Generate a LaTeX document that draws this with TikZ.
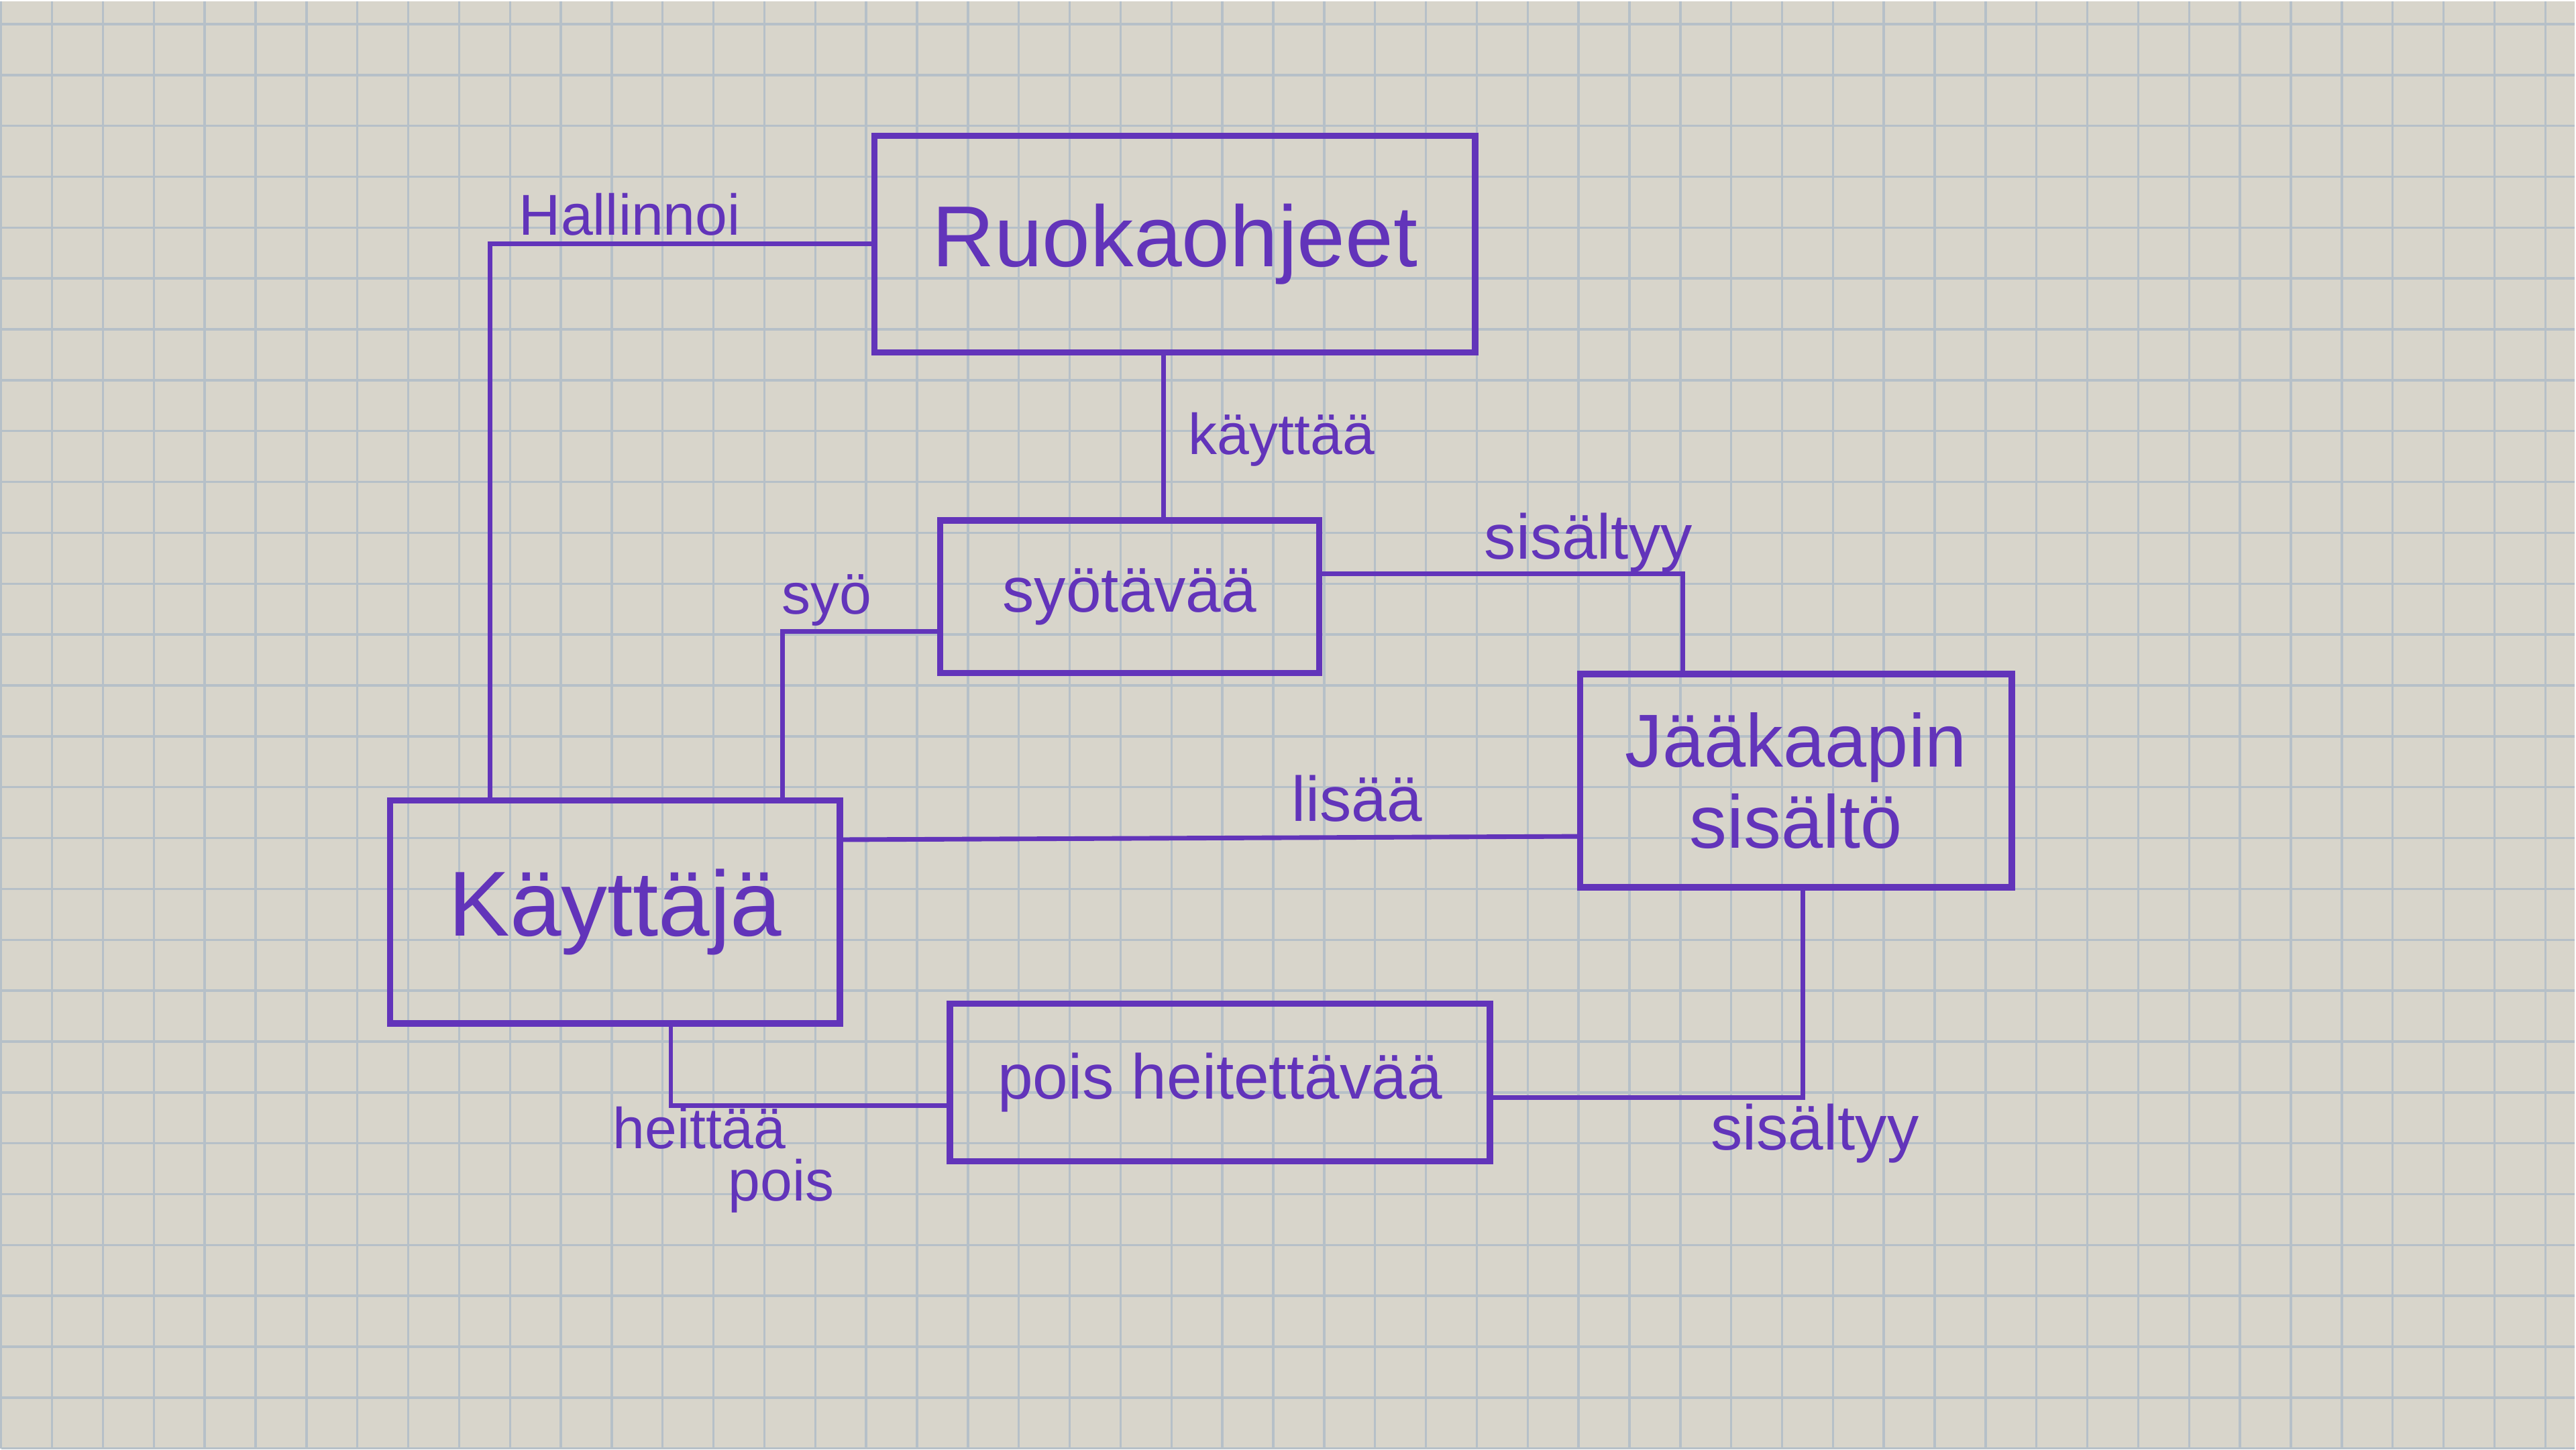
\documentclass[tikz,border=0pt]{standalone}
\usepackage{fontspec}
\setmainfont{Liberation Sans}
\definecolor{pen}{RGB}{98,52,186}
\definecolor{paper}{RGB}{216,213,203}
\definecolor{gridline}{RGB}{182,192,200}
\tikzset{
  box/.style={draw=pen, line width=1.1pt, text=pen, minimum width=#1},
  link/.style={draw=pen, line width=0.8pt},
  lbl/.style={text=pen, inner sep=0pt}
}
\begin{document}
\begin{tikzpicture}
\fill[paper] (0,0) rectangle (15.68,8.82);
\draw[gridline, line width=0.4pt, step=0.31] (0,0) grid (15.68,8.82);
\useasboundingbox (0,0) rectangle (15.68,8.82);

\node[box=3.66cm, minimum height=1.32cm, font=\fontsize{15}{18}\selectfont] (ruoka) at (7.15,7.34) {Ruokaohjeet};
\node[box=2.31cm, minimum height=0.93cm, font=\fontsize{11}{13}\selectfont] (syotavaa) at (6.875,5.19) {syötävää};
\node[box=2.63cm, minimum height=1.30cm, align=center, font=\fontsize{13}{14}\selectfont] (jaakaappi) at (10.935,4.07) {Jääkaapin\\sisältö};
\node[box=2.74cm, minimum height=1.36cm, font=\fontsize{16}{19}\selectfont] (kayttaja) at (3.74,3.27) {Käyttäjä};
\node[box=3.29cm, minimum height=0.96cm, font=\fontsize{11}{13}\selectfont] (pois) at (7.425,2.23) {pois heitettävää};

\draw[link] (ruoka.west) -| ([xshift=-7.6mm]kayttaja.north);
\draw[link] ([xshift=-0.7mm]ruoka.south) -- ([xshift=-0.7mm]ruoka.south |- syotavaa.north);
\draw[link] ([yshift=1.4mm]syotavaa.east) -| ([xshift=-6.9mm]jaakaappi.north);
\draw[link] ([yshift=-2.1mm]syotavaa.west) -| ([xshift=10.2mm]kayttaja.north);
\draw[link] ([yshift=4.4mm]kayttaja.east) -- ([yshift=-3.4mm]jaakaappi.west);
\draw[link] ([xshift=3.4mm]kayttaja.south) |- ([yshift=-1.4mm]pois.west);
\draw[link] ([xshift=0.4mm]jaakaappi.south) |- ([yshift=-0.9mm]pois.east);

\node[lbl, font=\fontsize{10}{12}\selectfont] (hallinnoi) at (3.83,7.52) {Hallinnoi};
\node[lbl, font=\fontsize{10}{12}\selectfont] (kayttaa) at (7.80,6.15) {käyttää};
\node[lbl, font=\fontsize{11}{13}\selectfont] (sisaltyy1) at (9.67,5.52) {sisältyy};
\node[lbl, font=\fontsize{10}{12}\selectfont] (syo) at (5.03,5.17) {syö};
\node[lbl, font=\fontsize{11}{13}\selectfont] (lisaa) at (8.26,3.96) {lisää};
\node[lbl, align=left, font=\fontsize{10}{9}\selectfont] (heittaa) at (4.40,1.76) {heittää\\\hspace*{2em}pois};
\node[lbl, font=\fontsize{11}{13}\selectfont] (sisaltyy2) at (11.05,1.92) {sisältyy};
\end{tikzpicture}
\end{document}
